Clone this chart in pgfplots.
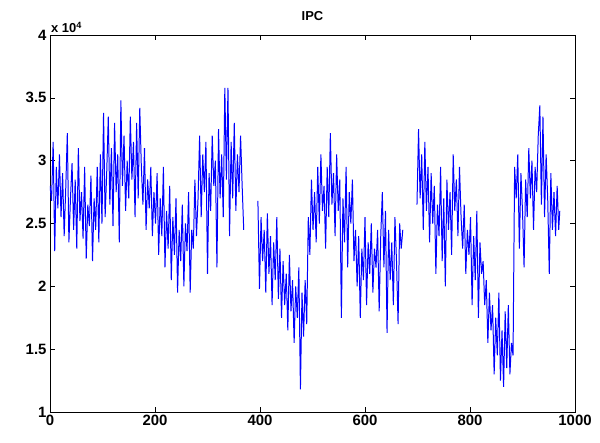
\documentclass[border=0pt]{standalone}
\usepackage{pgfplots}
\pgfplotsset{compat=1.18}
\usepackage{fontspec}
\setmainfont{Liberation Sans}
\begin{document}
\begin{tikzpicture}
\begin{axis}[name=ax, scale only axis, width=525bp, height=377bp,
  xmin=0, xmax=1000, ymin=1, ymax=4,
  xtick={0,200,400,600,800,1000},
  xticklabels={0,200,400,600,800,1000},
  ytick={1,1.5,2,2.5,3,3.5,4},
  yticklabels={1,1.5,2,2.5,3,3.5,4},
  tick align=inside, major tick length=5bp,
  /pgf/number format/assume math mode=true,
  tick label style={font=\fontsize{15}{17}\selectfont\bfseries},
  title={IPC}, title style={font=\fontsize{13}{15}\selectfont\bfseries, yshift=5bp},
  axis line style={line width=0.8pt},
  every tick/.style={black, line width=0.6pt},
  unbounded coords=jump]
\addplot[color={rgb,255:red,0;green,0;blue,255}, line width=1pt] table {
x y
0 2.80
3 2.68
6 3.15
9 2.28
12 2.95
15 2.62
18 3.05
21 2.55
24 2.90
27 2.40
30 2.78
33 3.22
36 2.35
39 2.70
42 2.98
45 2.45
48 2.85
51 2.30
54 3.10
57 2.52
60 2.75
63 2.38
66 2.95
69 2.22
72 2.65
75 2.48
78 2.88
81 2.20
84 2.70
87 2.45
90 2.95
93 2.35
96 3.05
99 2.50
102 3.38
105 2.55
108 2.90
111 3.35
114 2.65
117 3.10
120 2.48
123 3.30
126 2.75
129 3.05
132 2.35
135 3.48
138 2.80
141 3.20
144 2.60
147 3.00
150 2.70
153 3.35
156 2.85
159 3.15
162 2.55
165 3.30
168 2.70
171 3.42
174 2.95
177 2.65
180 3.10
183 2.45
186 2.85
189 2.62
192 2.95
195 2.40
198 2.75
201 2.50
204 2.90
207 2.25
210 2.70
213 2.40
216 2.95
219 2.15
222 2.60
225 2.30
228 2.80
231 2.05
234 2.55
237 2.25
240 2.70
243 1.95
246 2.45
249 2.20
252 2.65
255 2.00
258 2.50
261 2.28
264 2.75
267 1.95
270 2.45
273 2.30
276 2.85
279 2.40
282 2.70
285 3.20
288 2.55
291 3.05
294 2.75
297 3.15
300 2.10
303 2.90
306 2.60
309 3.20
312 2.80
315 3.00
318 2.15
321 3.25
324 2.70
327 3.05
330 2.55
333 3.58
336 2.85
339 3.58
342 2.40
345 3.15
348 2.70
351 3.30
354 2.60
357 3.05
360 2.75
363 3.20
366 2.80
369 2.45
380 nan
396 2.68
399 1.98
402 2.55
405 2.20
408 2.45
411 1.95
414 2.58
417 2.10
420 2.40
423 1.85
426 2.35
429 2.05
432 2.55
435 1.90
438 2.30
441 1.75
444 2.20
447 1.85
450 2.10
453 1.65
456 2.25
459 1.80
462 2.05
465 1.55
468 2.00
471 1.75
474 2.15
477 1.18
480 1.95
483 1.60
486 2.05
489 1.70
492 2.55
495 2.25
498 2.85
501 2.45
504 2.75
507 2.35
510 2.95
513 2.50
516 3.05
519 2.60
522 2.80
525 2.30
528 2.95
531 2.55
534 3.22
537 2.65
540 2.90
543 2.40
546 3.05
549 2.60
552 2.85
555 1.75
558 2.70
561 2.35
564 2.95
567 2.15
570 2.75
573 2.50
576 2.85
579 2.20
582 2.45
585 2.00
588 2.40
591 1.75
594 2.30
597 2.05
600 2.55
603 1.85
606 2.35
609 2.10
612 2.50
615 1.95
618 2.30
621 2.15
624 2.45
627 1.80
630 2.40
633 2.75
636 2.15
639 2.60
642 1.63
645 2.45
648 2.05
651 2.35
654 1.85
657 2.55
660 2.20
663 1.70
666 2.50
669 2.30
672 2.45
685 nan
699 2.65
702 3.25
705 2.70
708 3.05
711 2.45
714 3.15
717 2.60
720 2.95
723 2.35
726 2.90
729 2.50
732 2.80
735 2.10
738 2.65
741 2.40
744 2.95
747 2.20
750 2.70
753 2.00
756 2.85
759 2.45
762 2.75
765 2.25
768 3.05
771 2.60
774 2.85
777 2.40
780 2.95
783 2.55
786 2.30
789 2.65
792 2.10
795 2.45
798 2.25
801 2.55
804 1.85
807 2.40
810 2.05
813 2.60
816 1.75
819 2.35
822 2.10
825 2.20
828 1.85
831 2.05
834 1.55
837 1.95
840 1.65
843 1.85
846 1.30
849 1.75
852 1.45
855 1.95
858 1.25
861 1.65
864 1.20
867 1.80
870 1.35
873 1.85
876 1.30
879 1.55
882 1.45
885 2.95
888 2.70
891 3.05
894 2.30
897 2.90
900 2.60
903 2.15
906 2.85
909 2.55
912 3.10
915 2.70
918 3.00
921 2.45
924 2.95
927 2.75
930 3.20
933 3.44
936 2.65
939 3.35
942 2.55
945 3.05
948 2.70
951 2.10
954 2.90
957 2.45
960 2.75
963 2.40
966 2.80
969 2.45
971 2.60
};
\end{axis}
\node[anchor=south west, font=\fontsize{13}{15}\selectfont\bfseries, inner sep=1bp] at ([yshift=1bp]ax.north west) {x 10\textsuperscript{4}};
\pgfresetboundingbox
\path[use as bounding box] ([shift={(-50bp,-31bp)}]ax.south west) rectangle ([shift={(25bp,35bp)}]ax.north east);
\end{tikzpicture}
\end{document}
